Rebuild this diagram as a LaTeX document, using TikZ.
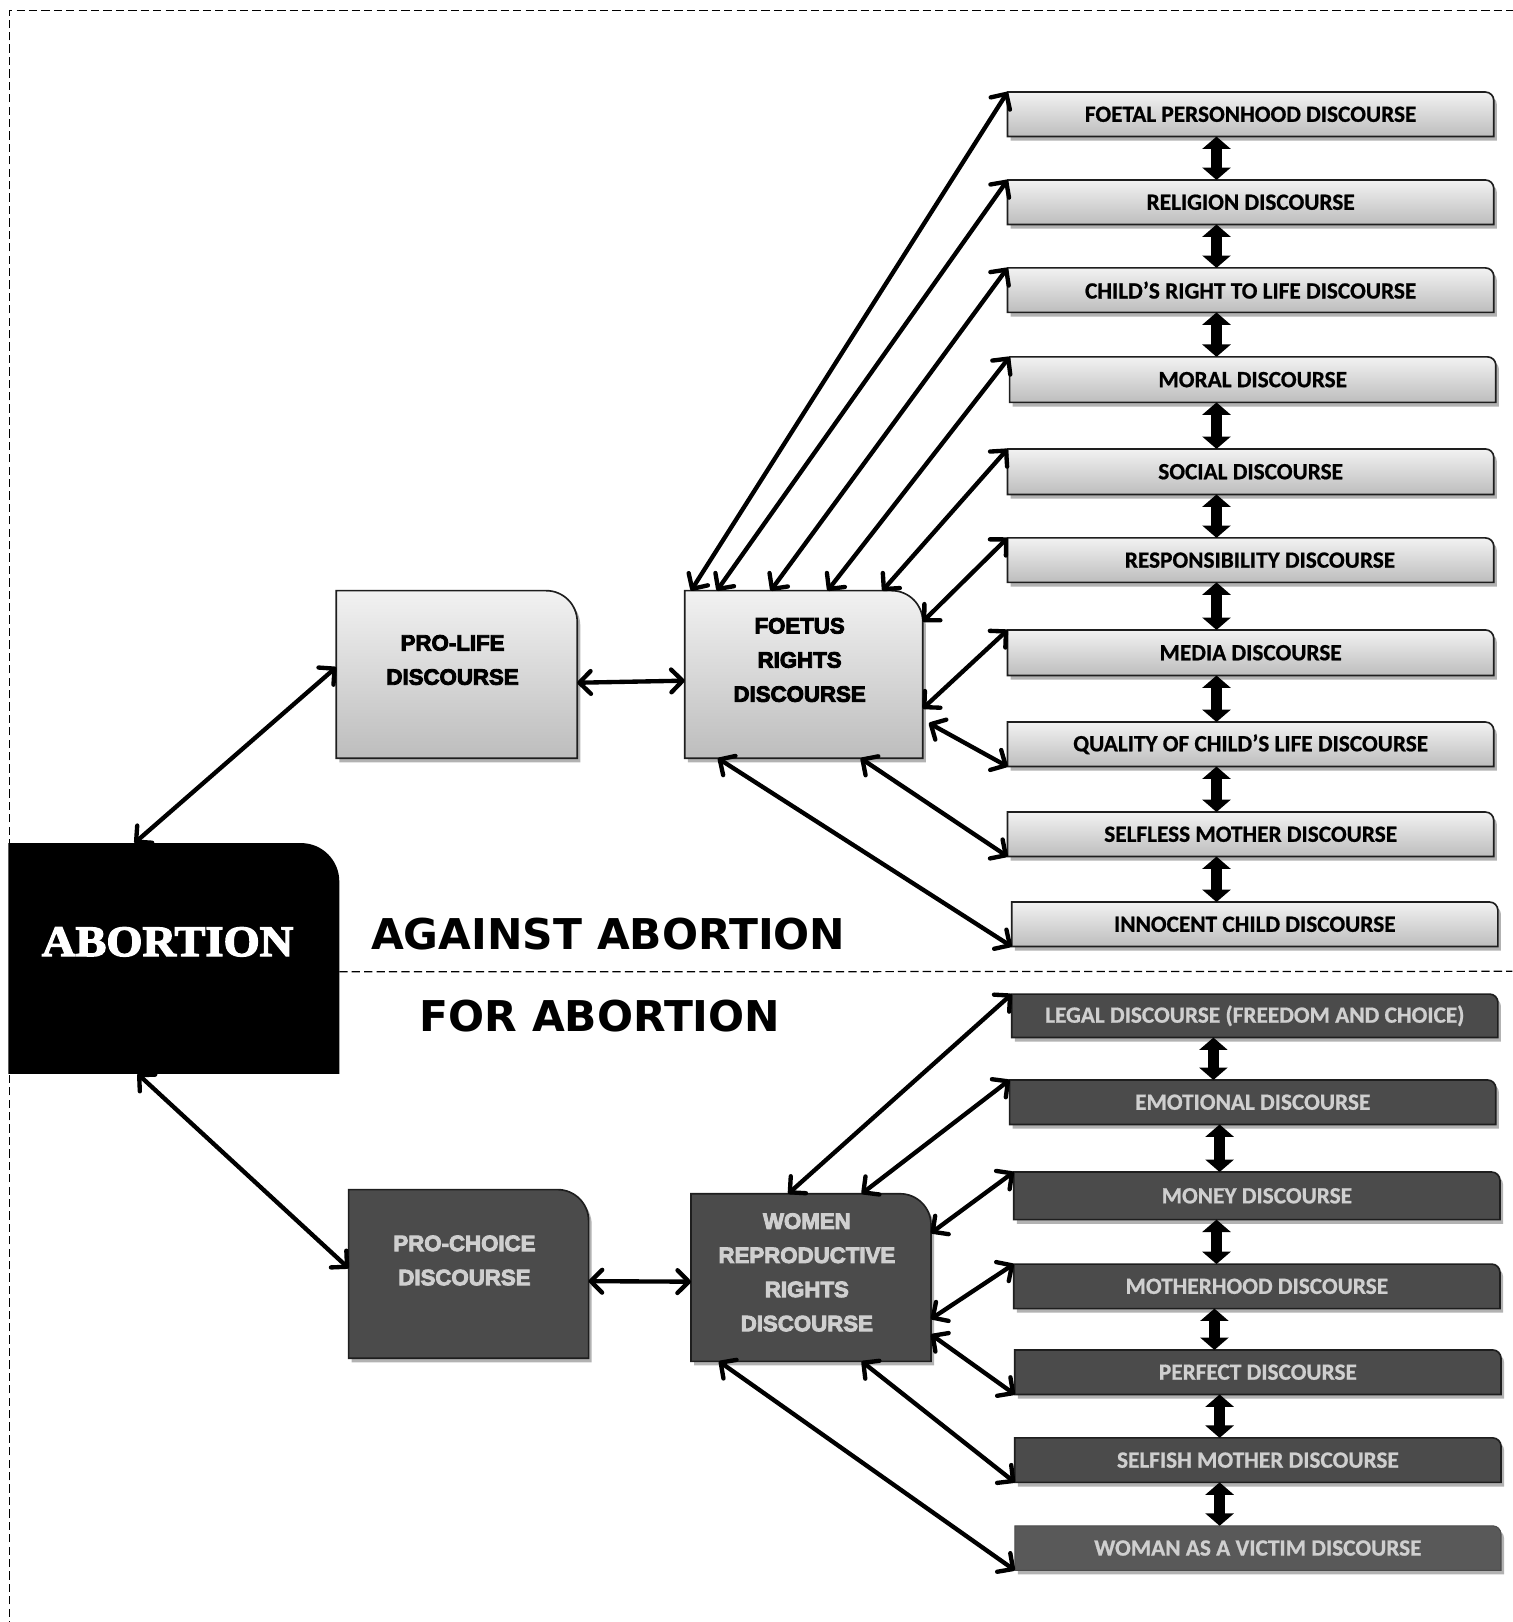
\documentclass[tikz,border=0pt]{standalone}
\usepackage{fontspec}
\setmainfont{Liberation Sans}
\newfontfamily\heavyfont{Liberation Sans}[BoldFeatures={FakeBold=4}]
\newfontfamily\listfont{Carlito}[BoldFeatures={FakeBold=0.8}]
\newfontfamily\titlefont{DejaVu Sans}
\newfontfamily\abfont{Liberation Serif}[BoldFeatures={FakeBold=3,FakeStretch=1.07}]
\usetikzlibrary{arrows.meta,shadows,backgrounds}
\definecolor{lighttop}{HTML}{F2F2F2}
\definecolor{lightbot}{HTML}{BDBDBD}
\definecolor{darkfill}{HTML}{4B4B4B}
\definecolor{darktext}{HTML}{CFCFCF}
\definecolor{edgecol}{HTML}{1E1E1E}
\newcommand\rtcorner[3]{%
  \path[#3] (#1.south west) -- (#1.north west) -- ([xshift=-#2]#1.north east)
    arc[start angle=90,end angle=0,radius=#2] -- (#1.south east) -- cycle;}
\tikzset{
  boxnode/.style={inner sep=0pt, outer sep=0pt, anchor=north west},
  listlight/.style={boxnode, minimum width=470pt, minimum height=43pt,
     font=\listfont\bfseries\fontsize{22.5}{24}\selectfont, text=black},
  listdark/.style={listlight, text=darktext},
  bigbox/.style={boxnode, minimum width=232pt, minimum height=162pt},
  biglbl/.style={font=\heavyfont\bfseries\fontsize{21.5}{33}\selectfont, align=center},
  myshadow/.style={drop shadow={shadow xshift=3pt,shadow yshift=-4pt,fill=black,opacity=0.3}},
  lightshade/.style={top color=lighttop, bottom color=lightbot, draw=edgecol, line width=1.6pt, myshadow},
  darkshade/.style={fill=darkfill, draw=edgecol, line width=1.6pt, myshadow},
  con/.style={line width=4.2pt, line cap=round, arrows={Straight Barb[length=11pt,width=22pt,round]-Straight Barb[length=11pt,width=22pt,round]}},
  link/.style={line width=10pt, arrows={Triangle[length=12pt,width=27pt]-Triangle[length=12pt,width=27pt]}},
  sect/.style={font=\titlefont\bfseries\fontsize{41}{45}\selectfont},
}
\begin{document}
\begin{tikzpicture}[x=1pt,y=-1pt]
\useasboundingbox (0,0) rectangle (1462,1568);
% outer dashed frame
\draw[line width=1.2pt, dash pattern=on 8pt off 4pt] (9,1575) -- (9,10) -- (1470,10);

% main boxes
\node[boxnode, minimum width=320pt, minimum height=223pt,
  label={[font=\abfont\bfseries\fontsize{42}{46}\selectfont, text=white, xshift=-6pt, yshift=16pt]center:ABORTION}] (ab) at (8,815) {};
\node[bigbox, minimum width=233pt,
  label={[biglbl, xshift=-4pt, yshift=14pt]center:PRO-LIFE\\DISCOURSE}] (pl) at (325,571) {};
\node[bigbox, minimum width=230pt,
  label={[biglbl, xshift=-4pt, yshift=14pt]center:FOETUS\\RIGHTS\\DISCOURSE}] (fr) at (662,571) {};
\node[bigbox, minimum height=163pt,
  label={[biglbl, text=darktext, xshift=-4pt, yshift=13pt]center:PRO-CHOICE\\DISCOURSE}] (pc) at (337,1150) {};
\node[bigbox,
  label={[biglbl, text=darktext, xshift=-4pt, yshift=5pt]center:WOMEN\\REPRODUCTIVE\\RIGHTS\\DISCOURSE}] (wr) at (668,1154) {};

% section titles
\node[sect] (against) at (588,903) {AGAINST ABORTION};
\node[sect] (for) at (580,982) {FOR ABORTION};
\coordinate (rt) at (1462,939);
\draw[line width=1.2pt, dash pattern=on 8pt off 4pt] ([yshift=-13pt]ab.east) -- (rt);

% against list
\node[listlight] (l1) at (974,89) {FOETAL PERSONHOOD DISCOURSE};
\node[listlight] (l2) at (974,174) {RELIGION DISCOURSE};
\node[listlight] (l3) at (974,259) {CHILD’S RIGHT TO LIFE DISCOURSE};
\node[listlight, minimum height=44pt] (l4) at (976,345) {MORAL DISCOURSE};
\node[listlight, minimum height=44pt] (l5) at (974,434) {SOCIAL DISCOURSE};
\node[listlight] (l6) at (974,520) {\hspace*{18pt}RESPONSIBILITY DISCOURSE};
\node[listlight, minimum height=44pt] (l7) at (974,609) {MEDIA DISCOURSE};
\node[listlight] (l8) at (974,698) {QUALITY OF CHILD’S LIFE DISCOURSE};
\node[listlight] (l9) at (974,785) {SELFLESS MOTHER DISCOURSE};
\node[listlight] (l10) at (978,872) {INNOCENT CHILD DISCOURSE};

% for list
\node[listdark, minimum height=42pt] (d1) at (978,961) {LEGAL DISCOURSE (FREEDOM AND CHOICE)};
\node[listdark] (d2) at (976,1044) {EMOTIONAL DISCOURSE};
\node[listdark, minimum height=46pt] (d3) at (980,1133) {MONEY DISCOURSE};
\node[listdark] (d4) at (980,1222) {MOTHERHOOD DISCOURSE};
\node[listdark] (d5) at (981,1305) {PERFECT DISCOURSE};
\node[listdark] (d6) at (981,1390) {SELFISH MOTHER DISCOURSE};
\node[listdark] (d7) at (981,1475) {WOMAN AS A VICTIM DISCOURSE};

% box shapes behind the texts
\begin{scope}[on background layer]
  \rtcorner{ab}{37pt}{fill=black}
  \rtcorner{pl}{30pt}{lightshade}
  \rtcorner{fr}{30pt}{lightshade}
  \rtcorner{pc}{30pt}{darkshade}
  \rtcorner{wr}{30pt}{darkshade}
  \foreach \n in {l1,l2,l3,l4,l5,l6,l7,l8,l9,l10}{\rtcorner{\n}{8pt}{lightshade}}
  \foreach \n in {d1,d2,d3,d4,d5,d6}{\rtcorner{\n}{8pt}{darkshade}}
  \rtcorner{d7}{8pt}{fill=darkfill!92!white, draw=darkfill, line width=1pt, myshadow}
\end{scope}

% thick links between list boxes
\foreach \a/\b/\s in {l1/l2/202,l2/l3/202,l3/l4/202,l4/l5/200,l5/l6/202,l6/l7/202,l7/l8/202,l8/l9/202,l9/l10/202,
                     d1/d2/195,d2/d3/203,d3/d4/196,d4/d5/194,d5/d6/198,d6/d7/198}{
  \draw[link] ([xshift=\s pt]\a.south west) -- ([xshift=\s pt]\a.south west |- \b.north);
}

% main connectors
\draw[con] ([xshift=122pt]ab.north west) -- ([yshift=-74pt]pl.north west);
\draw[con] ([xshift=125pt]ab.south west) -- ([yshift=-76pt]pc.north west);
\draw[con] ([yshift=-8pt]pl.east) -- ([yshift=-6pt]fr.west);
\draw[con] ([yshift=-7pt]pc.east) -- ([yshift=-4pt]wr.west);

% foetus rights to against list
\draw[con] ([xshift=6pt]fr.north west) -- (l1.north west);
\draw[con] ([xshift=31pt]fr.north west) -- (l2.north west);
\draw[con] ([xshift=83pt]fr.north west) -- (l3.north west);
\draw[con] ([xshift=138pt]fr.north west) -- (l4.north west);
\draw[con] ([xshift=191pt]fr.north west) -- (l5.north west);
\draw[con] ([yshift=-30pt]fr.north east) -- (l6.north west);
\draw[con] ([yshift=-114pt]fr.north east) -- (l7.north west);
\draw[con] ([xshift=6pt,yshift=-128pt]fr.north east) -- (l8.south west);
\draw[con] ([xshift=-60pt]fr.south east) -- (l9.south west);
\draw[con] ([xshift=32pt]fr.south west) -- (l10.south west);

% women reproductive rights to for list
\draw[con] ([xshift=94pt]wr.north west) -- (d1.north west);
\draw[con] ([xshift=165pt]wr.north west) -- (d2.north west);
\draw[con] ([yshift=-38pt]wr.north east) -- (d3.north west);
\draw[con] ([yshift=-121pt]wr.north east) -- (d4.north west);
\draw[con] ([yshift=-136pt]wr.north east) -- (d5.south west);
\draw[con] ([xshift=-67pt]wr.south east) -- (d6.south west);
\draw[con] ([xshift=27pt]wr.south west) -- (d7.south west);
\end{tikzpicture}
\end{document}
